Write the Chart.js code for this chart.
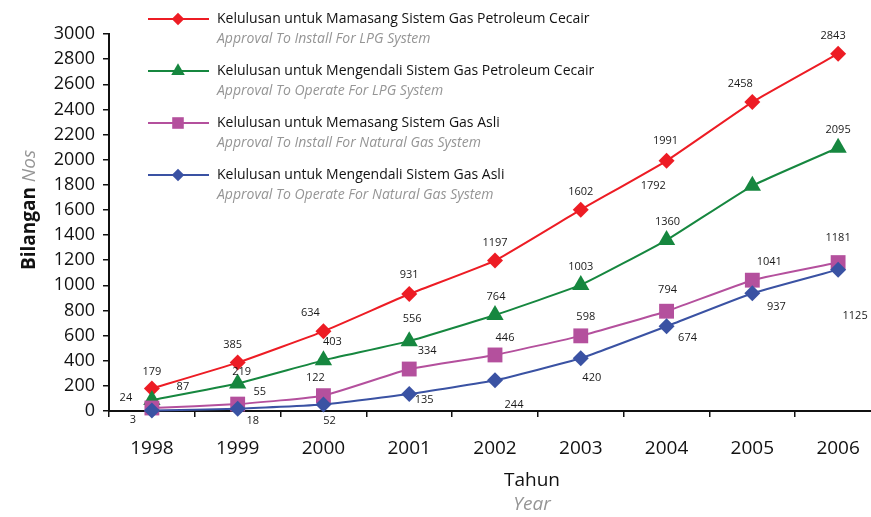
<!DOCTYPE html>
<html lang="ms">
<head>
<meta charset="UTF-8" />
<title>Kelulusan Sistem Gas</title>
<script src="https://cdn.jsdelivr.net/npm/chart.js"></script>
<style>
  html, body { margin: 0; padding: 0; background: #fff; overflow: hidden; }
  .wrap { position: relative; width: 900px; height: 517px; }
</style>
</head>
<body>
<div class="wrap"><canvas id="chart" width="900" height="517"></canvas></div>
<script>
const years = ["1998", "1999", "2000", "2001", "2002", "2003", "2004", "2005", "2006"];
const installLPG = [179, 385, 634, 931, 1197, 1602, 1991, 2458, 2843];
const operateLPG = [87, 219, 403, 556, 764, 1003, 1360, 1792, 2095];
const installNG = [24, 55, 122, 334, 446, 598, 794, 1041, 1181];
const operateNG = [3, 18, 52, 135, 244, 420, 674, 937, 1125];

const malayNames = [
  "Kelulusan untuk Mamasang Sistem Gas Petroleum Cecair",
  "Kelulusan untuk Mengendali Sistem Gas Petroleum Cecair",
  "Kelulusan untuk Memasang Sistem Gas Asli",
  "Kelulusan untuk Mengendali Sistem Gas Asli"
];
const englishNames = [
  "Approval To Install For LPG System",
  "Approval To Operate For LPG System",
  "Approval To Install For Natural Gas System",
  "Approval To Operate For Natural Gas System"
];

const FONT = "'Open Sans', 'Noto Sans', sans-serif";

// where each value label sits relative to its point [dx, dy]
const labelShift = [
  [[0,-17],[-5,-18],[-13,-18],[0,-19],[0,-18],[0,-18],[-1,-20],[-12,-18],[-5,-18]],
  [[31,-13],[4,-12],[9,-18],[3,-22],[1,-18],[0,-18],[1,-18],[-99,0],[0,-18]],
  [[-26,-10],[22,-12],[-8,-18],[18,-18],[10,-17],[5,-19],[1,-21],[17,-18],[0,-25]],
  [[-19,9],[15,12],[6,16],[15,6],[19,25],[11,20],[21,12],[24,14],[17,46]]
];

const series = [
  { data: installLPG, color: "#ed1c24", style: "rectRot", radius: 8 },
  { data: operateLPG, color: "#16873f", style: "triangle", radius: 10 },
  { data: installNG, color: "#b4509d", style: "rect", radius: 10.5 },
  { data: operateNG, color: "#3a52a3", style: "rectRot", radius: 8 }
];

const decorPlugin = {
  id: "decor",
  afterDatasetsDraw(chart) {
    const ctx = chart.ctx;
    ctx.save();
    // value labels
    ctx.font = "11px " + FONT;
    ctx.fillStyle = "#1a1a1a";
    ctx.textAlign = "center";
    ctx.textBaseline = "middle";
    chart.data.datasets.forEach((ds, i) => {
      chart.getDatasetMeta(i).data.forEach((pt, j) => {
        const s = labelShift[i][j];
        ctx.fillText(String(ds.data[j]), pt.x + s[0], pt.y + s[1]);
      });
    });

    // legend
    series.forEach((s, i) => {
      const y = 19 + i * 52;
      ctx.strokeStyle = s.color;
      ctx.lineWidth = 2;
      ctx.beginPath();
      ctx.moveTo(148, y);
      ctx.lineTo(209, y);
      ctx.stroke();
      ctx.fillStyle = s.color;
      Chart.helpers.drawPoint(ctx, { pointStyle: s.style, radius: s.radius * 0.78, rotation: 0, borderWidth: 0 }, 178, y);
      ctx.textAlign = "left";
      ctx.fillStyle = "#111";
      ctx.font = "14px " + FONT;
      ctx.fillText(malayNames[i], 217, y);
      ctx.fillStyle = "#959595";
      ctx.font = "italic 14px " + FONT;
      ctx.fillText(englishNames[i], 217, y + 20);
    });

    // y axis title
    ctx.save();
    ctx.translate(30, 210);
    ctx.rotate(-Math.PI / 2);
    ctx.textAlign = "left";
    ctx.font = "bold 19px " + FONT;
    const w1 = ctx.measureText("Bilangan ").width;
    ctx.font = "italic 19px " + FONT;
    const w2 = ctx.measureText("Nos").width;
    const start = -(w1 + w2) / 2;
    ctx.font = "bold 19px " + FONT;
    ctx.fillStyle = "#111";
    ctx.fillText("Bilangan ", start, 0);
    ctx.font = "italic 19px " + FONT;
    ctx.fillStyle = "#959595";
    ctx.fillText("Nos", start + w1, 0);
    ctx.restore();

    // x axis title
    ctx.textAlign = "center";
    ctx.font = "19px " + FONT;
    ctx.fillStyle = "#111";
    ctx.fillText("Tahun", 532, 481);
    ctx.font = "italic 19px " + FONT;
    ctx.fillStyle = "#959595";
    ctx.fillText("Year", 532, 505);
    ctx.restore();
  }
};

new Chart(document.getElementById("chart"), {
  type: "line",
  data: {
    labels: years,
    datasets: series.map((s, i) => ({
      label: malayNames[i],
      data: s.data,
      order: 3 - i,
      borderColor: s.color,
      backgroundColor: s.color,
      pointBackgroundColor: s.color,
      pointBorderWidth: 0,
      pointStyle: s.style,
      pointRadius: s.radius,
      borderWidth: 2,
      tension: 0.12,
      clip: false
    }))
  },
  options: {
    responsive: false,
    animation: false,
    events: [],
    layout: { padding: { top: 34, right: 19, bottom: 0, left: 0 } },
    plugins: { legend: { display: false }, tooltip: { enabled: false } },
    scales: {
      x: {
        offset: true,
        grid: { display: true, drawOnChartArea: false, offset: true, tickLength: 6, color: "#111", lineWidth: 1.5 },
        border: { color: "#111", width: 2 },
        ticks: { color: "#111", padding: 20, font: { family: FONT, size: 19 } },
        afterFit(scale) { scale.height = 106; }
      },
      y: {
        min: 0,
        max: 3000,
        ticks: {
          stepSize: 200, color: "#111", padding: 8, font: { family: FONT, size: 18 },
          callback: (v) => String(v)
        },
        grid: { display: true, drawOnChartArea: false, tickLength: 6, color: "#111", lineWidth: 1.5 },
        border: { color: "#111", width: 2 },
        afterFit(scale) { scale.width = 109; }
      }
    }
  },
  plugins: [decorPlugin]
});
</script>
</body>
</html>
